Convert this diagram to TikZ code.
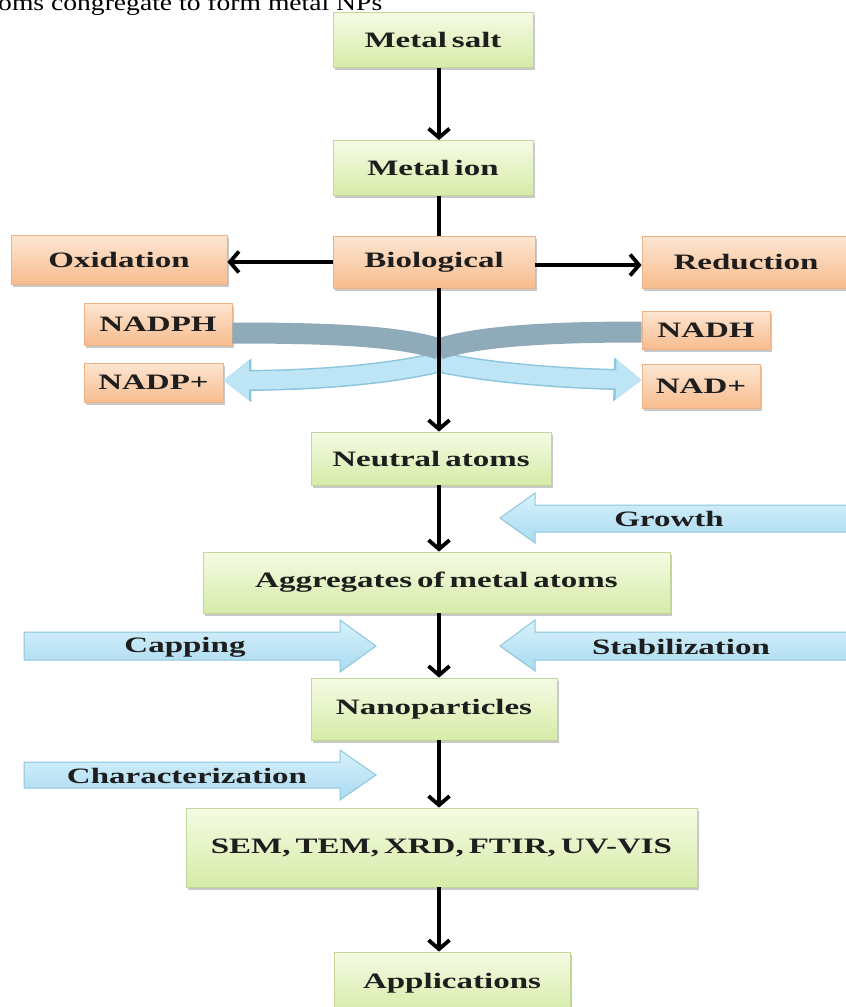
\documentclass[tikz,border=0pt]{standalone}
\usepackage{fontspec}
\setmainfont{Liberation Serif}
\newfontfamily\lblfont[FakeStretch=1.5]{Liberation Serif}
\newfontfamily\topfont[FakeStretch=1.2]{Liberation Serif}
\newcommand\lblsetup{\lblfont\bfseries\fontsize{22}{26}\selectfont\spaceskip 5pt plus 1pt\relax}
\usetikzlibrary{arrows.meta,shadows}
\definecolor{gtop}{HTML}{F5FBE4}
\definecolor{gbot}{HTML}{D6EBA8}
\definecolor{gedge}{HTML}{C2D79A}
\definecolor{otop}{HTML}{FDE6D2}
\definecolor{obot}{HTML}{F7BC8E}
\definecolor{oedge}{HTML}{EDB286}
\definecolor{btop}{HTML}{D8F1FB}
\definecolor{bbot}{HTML}{A9DAF0}
\definecolor{bedge}{HTML}{8CC6DE}
\definecolor{bflat}{HTML}{BDE5F6}
\definecolor{grayband}{HTML}{8FAAB8}
\definecolor{txt}{HTML}{1E1E1E}
\tikzset{
  lbl/.style={font=\lblsetup, text=txt},
  gbox/.style={lbl, draw=gedge, line width=0.8pt, top color=gtop, bottom color=gbot,
    inner sep=0pt, drop shadow={shadow xshift=2pt, shadow yshift=-2.5pt, opacity=0.3, fill=black!70}},
  obox/.style={lbl, draw=oedge, line width=0.8pt, top color=otop, bottom color=obot,
    inner sep=0pt, drop shadow={shadow xshift=2pt, shadow yshift=-2.5pt, opacity=0.3, fill=black!70}},
  blockarrow/.style={draw=bedge, line width=1pt, top color=btop, bottom color=bbot},
  btext/.style={lbl, inner sep=0pt},
  conn/.style={line width=3.8pt, draw=black},
  arr/.style={conn, -{Straight Barb[length=9pt,width=21pt]}},
  gband/.style={line width=21pt, draw=grayband},
  barrowedge/.style={line width=21pt, draw=bedge, -{Triangle[length=28pt,width=42pt]}},
  barrow/.style={line width=18pt, draw=bflat, -{Triangle[length=25.5pt,width=38pt]}}
}
\begin{document}
\begin{tikzpicture}[x=1pt,y=-1pt]
\useasboundingbox (0,0) rectangle (846,1007);
\fill[white] (0,0) rectangle (846,1007);

% top cut-off caption line
\node[anchor=base west, inner sep=0pt, font=\topfont\fontsize{23}{26}\selectfont] (caption) at (-2,10.5) {oms congregate to form metal NPs};

% boxes
\node[gbox, minimum width=200pt, minimum height=55pt] (salt) at (433,40) {Metal salt};
\node[gbox, minimum width=200pt, minimum height=55pt] (ion) at (433,168) {Metal ion};
\node[obox, minimum width=202pt, minimum height=52pt] (bio) at (434,262) {Biological};
\node[obox, minimum width=216pt, minimum height=49pt] (ox) at (119,260) {Oxidation};
\node[obox, minimum width=208pt, minimum height=52pt] (red) at (746,262) {Reduction};
\node[obox, minimum width=148pt, minimum height=42pt] (nadph) at (158,324) {NADPH};
\node[obox, minimum width=128pt, minimum height=38pt] (nadh) at (706,330) {NADH};
\node[obox, minimum width=139pt, minimum height=39pt] (nadp) at (153.5,382.5) {NADP+};
\node[obox, minimum width=118pt, minimum height=44pt] (nad) at (701,386) {NAD+};
\node[gbox, minimum width=240pt, minimum height=53pt] (neutral) at (431,458.5) {Neutral atoms};
\node[gbox, minimum width=467pt, minimum height=61pt] (agg) at (436.5,582.5) {Aggregates of metal atoms};
\node[gbox, minimum width=246pt, minimum height=62pt] (nano) at (434,709) {Nanoparticles};
\node[gbox, minimum width=511pt, minimum height=79pt] (sem) at (441.5,847.5) {SEM, TEM, XRD, FTIR, UV-VIS};
\node[gbox, minimum width=236pt, minimum height=62pt] (app) at (452,983) {Applications};

% block arrows
\path[blockarrow] (850,505) -- (535,505) -- (535,493) -- (500,518) -- (535,543) -- (535,532) -- (850,532) -- cycle;
\path[blockarrow] (850,632) -- (535,632) -- (535,620) -- (500,646) -- (535,671) -- (535,660) -- (850,660) -- cycle;
\path[blockarrow] (24,632) -- (340,632) -- (340,620) -- (376,646) -- (340,672) -- (340,660) -- (24,660) -- cycle;
\path[blockarrow] (24,762) -- (340,762) -- (340,750) -- (376,775) -- (340,800) -- (340,788) -- (24,788) -- cycle;
\node[btext] (growth) at (669,519) {Growth};
\node[btext] (stab) at (681,647) {Stabilization};
\node[btext] (capping) at (185,647) {Capping};
\node[btext] (charac) at (187,776) {Characterization};

% NAD(P)H bands
\coordinate (spine) at (439,0);
\coordinate (crossA) at (439,349);
\coordinate (crossB) at (439,362);
\draw[barrowedge] (crossB) .. controls (400,372) and (330,380) .. ([yshift=2pt]nadp.east);
\draw[barrowedge] (crossB) .. controls (478,371) and (550,378) .. ([yshift=6pt]nad.west);
\draw[barrow] (crossB) .. controls (400,372) and (330,380) .. ([yshift=2pt]nadp.east);
\draw[barrow] (crossB) .. controls (478,371) and (550,378) .. ([yshift=6pt]nad.west);
\draw[gband] ([yshift=-9pt]nadph.east) .. controls (330,333) and (400,336) .. (crossA);
\draw[gband] ([yshift=-2pt]nadh.west) .. controls (550,332) and (478,336) .. (crossA);

% connectors
\draw[arr] (salt.south -| spine) -- (ion.north -| spine);
\draw[conn] (ion.south -| spine) -- (bio.north -| spine);
\draw[arr] (bio.west) -- (ox.east |- bio.west);
\draw[arr] ([yshift=-3pt]bio.east) -- ([yshift=-3pt]red.west |- bio.east);
\draw[arr] (bio.south -| spine) -- (neutral.north -| spine);
\draw[arr] (neutral.south -| spine) -- (agg.north -| spine);
\draw[arr] (agg.south -| spine) -- (nano.north -| spine);
\draw[arr] (nano.south -| spine) -- (sem.north -| spine);
\draw[arr] (sem.south -| spine) -- (app.north -| spine);
\end{tikzpicture}
\end{document}
